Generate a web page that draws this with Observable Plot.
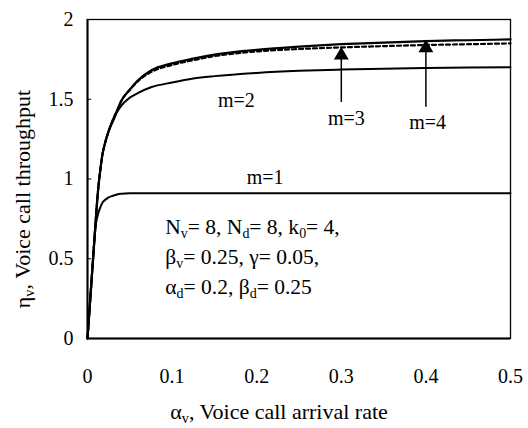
<!DOCTYPE html>
<html>
<head>
<meta charset="utf-8">
<script src="https://cdn.jsdelivr.net/npm/d3@7"></script>
<script src="https://cdn.jsdelivr.net/npm/@observablehq/plot@0.6"></script>
<style>
  html, body { margin: 0; padding: 0; background: #fff; }
  #chart svg { display: block; }
</style>
</head>
<body>
<div id="chart"></div>
<script>
// Voice call arrival rate (x)
const alpha = [0, 0.0025, 0.005, 0.0075, 0.01, 0.0125, 0.015, 0.0175, 0.02, 0.025, 0.03, 0.035, 0.04, 0.05, 0.06, 0.075, 0.1, 0.125, 0.15, 0.2, 0.25, 0.3, 0.35, 0.4, 0.45, 0.5];
// Voice call throughput for m = 1..4
const m1 = [0, 0.19, 0.38, 0.57, 0.72, 0.78, 0.82, 0.85, 0.865, 0.885, 0.895, 0.903, 0.907, 0.91, 0.91, 0.91, 0.91, 0.91, 0.91, 0.91, 0.91, 0.91, 0.91, 0.91, 0.91, 0.91];
const m2 = [0, 0.19, 0.38, 0.57, 0.76, 0.93, 1.05, 1.15, 1.21, 1.30, 1.36, 1.42, 1.46, 1.51, 1.54, 1.575, 1.605, 1.63, 1.645, 1.665, 1.678, 1.686, 1.692, 1.696, 1.699, 1.70];
const m3 = [0, 0.19, 0.38, 0.57, 0.76, 0.93, 1.05, 1.15, 1.21, 1.30, 1.37, 1.43, 1.49, 1.56, 1.615, 1.67, 1.715, 1.745, 1.77, 1.80, 1.815, 1.825, 1.833, 1.84, 1.845, 1.85];
const m4 = [0, 0.19, 0.38, 0.57, 0.76, 0.93, 1.05, 1.15, 1.21, 1.30, 1.37, 1.43, 1.49, 1.56, 1.62, 1.68, 1.725, 1.755, 1.78, 1.81, 1.83, 1.845, 1.855, 1.865, 1.87, 1.875];

const xTicks = [0, 0.1, 0.2, 0.3, 0.4, 0.5];
const yTicks = [0, 0.5, 1, 1.5, 2];

// curve labels
const curveLabels = ["m=1", "m=2", "m=3", "m=4"];
const labelX = [0.21, 0.176, 0.306, 0.402];
const labelY = [1.01, 1.49, 1.38, 1.355];

// arrows (m=3, m=4)
const arrowX = [0.3, 0.4];
const arrowFrom = [1.48, 1.45];
const arrowTo = [1.82, 1.865];

// parameter note lines
const noteLines = ["N{v}= 8, N{d}= 8, k{0}= 4,", "β{v}= 0.25, γ= 0.05,", "α{d}= 0.2, β{d}= 0.25"];
const noteY = [0.696, 0.508, 0.32];
const noteX = 0.092;

const xLabel = "α{v}, Voice call arrival rate";
const yLabel = "η{v}, Voice call throughput";

const series = (ys) => alpha.map((a, i) => ({x: a, y: ys[i]}));
const FONT = "'Liberation Serif', 'Times New Roman', Times, 'DejaVu Serif', serif";

const plot = Plot.plot({
  width: 528,
  height: 428,
  marginLeft: 87,
  marginRight: 18,
  marginTop: 19,
  marginBottom: 90,
  style: {fontSize: "18px", color: "#000", background: "#fff"},
  x: {type: "linear", domain: [0, 0.5]},
  y: {type: "linear", domain: [0, 2]},
  marks: [
    Plot.axisX({ticks: xTicks, tickSize: 0, tickPadding: 30, label: null, fontSize: 20, tickFormat: d => String(d)}),
    Plot.axisY({ticks: yTicks, tickSize: 0, tickPadding: 14, label: null, fontSize: 20, tickFormat: d => String(d)}),
    Plot.ruleY(yTicks.slice(1, -1), {x1: 0, x2: 0.005, stroke: "#000", strokeWidth: 1}),
    Plot.frame({stroke: "#000", strokeWidth: 1.3}),
    Plot.ruleX([0], {stroke: "#000", strokeWidth: 2}),
    Plot.ruleY([0], {stroke: "#000", strokeWidth: 2}),
    Plot.line(series(m1), {x: "x", y: "y", stroke: "#000", strokeWidth: 2, curve: "monotone-x"}),
    Plot.line(series(m2), {x: "x", y: "y", stroke: "#000", strokeWidth: 2, curve: "monotone-x"}),
    Plot.line(series(m4), {x: "x", y: "y", stroke: "#000", strokeWidth: 2.2, curve: "monotone-x"}),
    Plot.line(series(m3), {x: "x", y: "y", stroke: "#000", strokeWidth: 2.2, strokeDasharray: "4,3", curve: "monotone-x"}),
    Plot.ruleX(arrowX.map((x, i) => ({x, y1: arrowFrom[i], y2: arrowTo[i] - 0.06})), {x: "x", y1: "y1", y2: "y2", stroke: "#000", strokeWidth: 1.5}),
    Plot.dot(arrowX.map((x, i) => ({x, y: arrowTo[i]})), {x: "x", y: "y", symbol: "triangle", r: 5.5, fill: "#000", stroke: "none", dy: 7}),
    Plot.text(curveLabels.map((t, i) => ({t, x: labelX[i], y: labelY[i]})), {x: "x", y: "y", text: "t", fontSize: 20, fill: "#000"}),
    Plot.text(noteLines.map((t, i) => ({t, x: noteX, y: noteY[i]})), {x: "x", y: "y", text: "t", textAnchor: "start", fontSize: 21.5, fill: "#000"}),
    Plot.text([xLabel], {frameAnchor: "bottom", textAnchor: "middle", dy: 80, dx: -20, text: d => d, fontSize: 22, fill: "#000"}),
    Plot.text([yLabel], {frameAnchor: "left", textAnchor: "middle", dx: -65, dy: 20, rotate: -90, text: d => d, fontSize: 22, fill: "#000"})
  ]
});

d3.select(plot).attr("font-family", FONT);

// convert X{s} markup into subscript tspans; set serif font on every text
d3.select(plot).selectAll("text").each(function() {
  const el = d3.select(this);
  el.attr("font-family", FONT);
  const txt = this.textContent;
  if (!txt.includes("{")) return;
  el.text(null);
  const parts = txt.split(/(\{[^}]*\})/);
  for (const p of parts) {
    if (!p) continue;
    if (p.startsWith("{")) {
      el.append("tspan").attr("baseline-shift", "-30%").attr("font-size", "0.65em").text(p.slice(1, -1));
    } else {
      el.append("tspan").text(p);
    }
  }
});

document.getElementById("chart").appendChild(plot);
</script>
</body>
</html>
